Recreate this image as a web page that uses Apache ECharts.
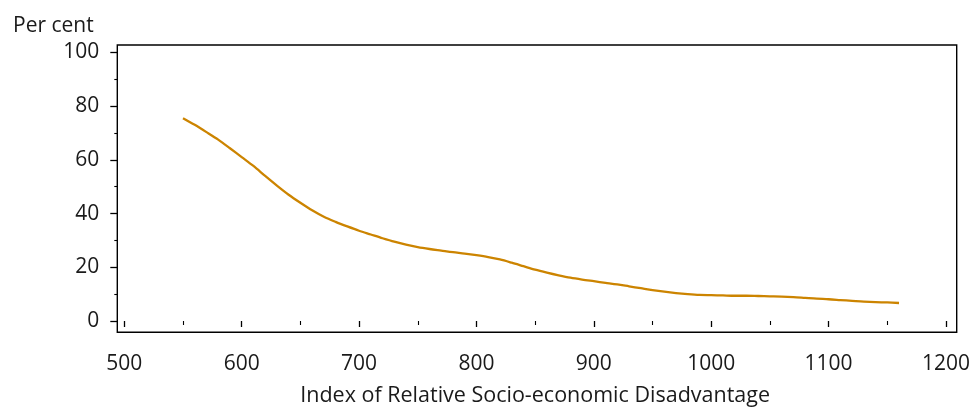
<!DOCTYPE html>
<html>
<head>
<meta charset="utf-8">
<script src="https://cdn.jsdelivr.net/npm/echarts@6/dist/echarts.min.js"></script>
<style>
html,body{margin:0;padding:0;background:#fff;}
#chart{width:973px;height:412px;}
</style>
</head>
<body>
<div id="chart"></div>
<script>
const indexValues = [550,560,570,580,590,600,610,620,630,640,650,660,670,680,690,700,710,720,730,740,750,760,770,780,790,800,810,820,830,840,850,860,870,880,890,900,910,920,930,940,950,960,970,980,990,1000,1010,1020,1030,1040,1050,1060,1070,1080,1090,1100,1110,1120,1130,1140,1150,1160];
const perCent = [75.5,73.0,70.3,67.5,64.3,61.0,57.7,54.0,50.4,47.0,44.0,41.2,38.8,36.9,35.2,33.6,32.2,30.8,29.5,28.4,27.5,26.8,26.2,25.6,25.1,24.5,23.8,22.9,21.7,20.4,19.1,18.0,17.0,16.1,15.4,14.8,14.2,13.6,12.9,12.2,11.5,10.9,10.4,10.0,9.7,9.6,9.5,9.4,9.4,9.3,9.2,9.1,8.9,8.6,8.3,8.1,7.8,7.5,7.2,7.0,6.9,6.7];
const xTicks = [500,600,700,800,900,1000,1100,1200];
const yTicks = [0,20,40,60,80,100];
const xTitle = 'Index of Relative Socio-economic Disadvantage';
const yTitle = 'Per cent';

const FONT = '"Open Sans", "Noto Sans", sans-serif';
const TXT = '#1a1a1a';
const chart = echarts.init(document.getElementById('chart'), null, {renderer:'canvas'});
const data = indexValues.map((x,i)=>[x, perCent[i]]);
chart.setOption({
  animation:false,
  backgroundColor:'#fff',
  title:{text:yTitle,left:8,top:11,textStyle:{fontFamily:FONT,fontSize:21,fontWeight:'normal',color:TXT}},
  grid:[
    {left:124.3,right:24,top:52.3,bottom:87,containLabel:false},
    {left:117.3,right:16.3,top:45,bottom:79.7,show:true,borderColor:'#000',borderWidth:1.4,backgroundColor:'transparent',z:5}
  ],
  xAxis:[
    {type:'value',gridIndex:0,min:xTicks[0],max:xTicks[xTicks.length-1],interval:100,offset:7,
     axisLine:{show:false},
     axisTick:{show:true,inside:false,length:6,lineStyle:{color:'#000',width:1.3}},
     minorTick:{show:true,splitNumber:2,length:4,lineStyle:{color:'#000',width:1.1}},
     splitLine:{show:false},
     axisLabel:{margin:26,fontFamily:FONT,fontSize:21,color:TXT,formatter:v=>String(v)},
     name:xTitle,nameLocation:'middle',nameGap:57,
     nameTextStyle:{fontFamily:FONT,fontSize:21.5,color:TXT}},
    {type:'value',gridIndex:1,show:false,min:0,max:1}
  ],
  yAxis:[
    {type:'value',gridIndex:0,min:yTicks[0],max:yTicks[yTicks.length-1],interval:20,offset:7,
     axisLine:{show:false},
     axisTick:{show:true,inside:false,length:7,lineStyle:{color:'#000',width:1.3}},
     minorTick:{show:true,splitNumber:2,length:3,lineStyle:{color:'#000',width:1.1}},
     splitLine:{show:false},
     axisLabel:{margin:18,fontFamily:FONT,fontSize:21,color:TXT,formatter:v=>String(v)}},
    {type:'value',gridIndex:1,show:false,min:0,max:1}
  ],
  series:[{
    type:'line',xAxisIndex:0,yAxisIndex:0,data:data,smooth:0.3,showSymbol:false,
    lineStyle:{color:'#CC8400',width:2.3},itemStyle:{color:'#CC8400'}
  }]
});
</script>
</body>
</html>
